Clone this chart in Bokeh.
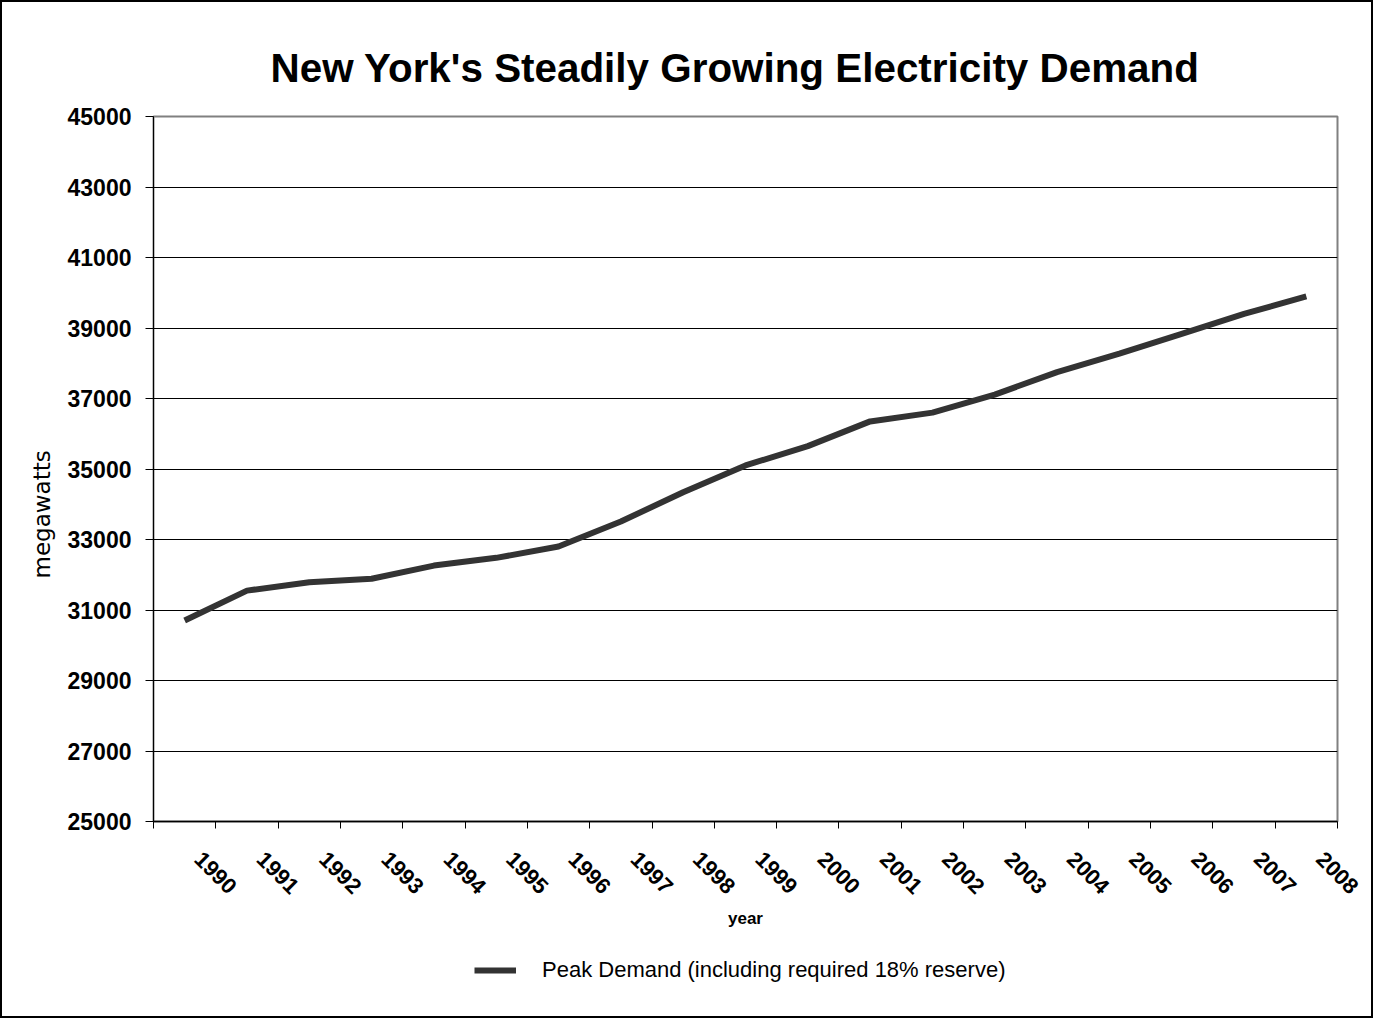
import math
from bokeh.plotting import figure
from bokeh.layouts import column
from bokeh.models import FixedTicker, Range1d, Title, Legend, LegendItem
from bokeh.embed import file_html
from bokeh.resources import INLINE

# ---- data ----
years = [1990, 1991, 1992, 1993, 1994, 1995, 1996, 1997, 1998, 1999,
         2000, 2001, 2002, 2003, 2004, 2005, 2006, 2007, 2008]
peak_demand = [30700, 31550, 31790, 31885, 32260, 32480, 32800, 33510, 34340, 35100,
               35650, 36350, 36600, 37110, 37750, 38270, 38835, 39400, 39895]
y_ticks = [25000, 27000, 29000, 31000, 33000, 35000, 37000, 39000, 41000, 43000, 45000]

title_text = "New York's Steadily Growing Electricity Demand"
series_name = "Peak Demand (including required 18% reserve)"
x_title = "year"
y_title = "megawatts"

FONT = "Liberation Sans"
LABEL_SHIFT = 0.22  # horizontal nudge of the rotated year labels
LINE_COLOR = "#333333"
LINE_WIDTH = 6

x_idx = list(range(len(years)))

W = 1369
H_MAIN = 940
H_LEG = 74

p = figure(width=W, height=H_MAIN, output_backend="svg", toolbar_location=None,
           x_range=Range1d(-0.5, len(years) - 0.5), y_range=Range1d(25000, 45000),
           min_border_left=151, min_border_right=34, min_border_top=114,
           min_border_bottom=H_MAIN - 819,
           background_fill_color="white", border_fill_color="white")

# title
p.title.text = title_text
p.title.text_font = FONT
p.title.text_font_size = "40.4px"
p.title.text_font_style = "bold"
p.title.text_color = "black"
p.title.align = "left"
p.title.offset = 117
p.title.standoff = 51

# outline (top/right of plot area)
p.outline_line_color = "#808080"
p.outline_line_width = 2

# y axis
p.yaxis.ticker = FixedTicker(ticks=y_ticks)
p.yaxis.major_label_text_font = FONT
p.yaxis.major_label_text_font_size = "23px"
p.yaxis.major_label_text_font_style = "bold"
p.yaxis.major_label_text_color = "black"
p.yaxis.major_tick_out = 8
p.yaxis.major_tick_in = 0
p.yaxis.minor_tick_line_color = None
p.yaxis.major_label_standoff = 14
p.yaxis.axis_line_color = "black"
p.yaxis.major_tick_line_color = "black"

# y title (vertical title on the left, positioned along the axis)
p.add_layout(Title(text=y_title, align="left", offset=243, standoff=19,
                   text_font="DejaVu Sans", text_font_size="23px",
                   text_font_style="normal", text_color="black"), "left")

# x axis: labels near category centres, tick marks at category boundaries
p.xaxis.ticker = FixedTicker(ticks=[i + LABEL_SHIFT for i in x_idx],
                             minor_ticks=[i - 0.5 for i in range(len(years) + 1)])
p.xaxis.major_label_overrides = {i + LABEL_SHIFT: str(y) for i, y in zip(x_idx, years)}
p.xaxis.major_label_orientation = -math.pi / 4
p.xaxis.major_label_text_font = FONT
p.xaxis.major_label_text_font_size = "22px"
p.xaxis.major_label_text_font_style = "bold"
p.xaxis.major_label_text_color = "black"
p.xaxis.major_label_standoff = 27
p.xaxis.major_tick_line_color = None
p.xaxis.major_tick_out = 0
p.xaxis.major_tick_in = 0
p.xaxis.minor_tick_line_color = "black"
p.xaxis.minor_tick_out = 7
p.xaxis.minor_tick_in = 0
p.xaxis.axis_line_color = "black"
p.xaxis.axis_line_width = 1.5
p.xaxis.axis_label = x_title
p.xaxis.axis_label_text_font = FONT
p.xaxis.axis_label_text_font_size = "17px"
p.xaxis.axis_label_text_font_style = "bold"
p.xaxis.axis_label_text_color = "black"
p.xaxis.axis_label_standoff = 5

# grid
p.xgrid.grid_line_color = None
p.ygrid.ticker = FixedTicker(ticks=y_ticks[1:-1])
p.ygrid.grid_line_color = "black"
p.ygrid.grid_line_width = 1

# data line
p.line(x=x_idx, y=peak_demand, line_color=LINE_COLOR, line_width=LINE_WIDTH)

# ---- legend strip below the chart ----
pl = figure(width=W, height=H_LEG, output_backend="svg", toolbar_location=None,
            x_axis_type=None, y_axis_type=None,
            x_range=Range1d(0, 1), y_range=Range1d(0, 1),
            min_border=0, outline_line_color=None,
            background_fill_color="white", border_fill_color="white")
pl.xgrid.grid_line_color = None
pl.ygrid.grid_line_color = None
# same series, drawn outside this strip's visible range: only its legend swatch shows
r_leg = pl.line(x=years, y=peak_demand, line_color=LINE_COLOR, line_width=LINE_WIDTH)

lg = Legend(items=[LegendItem(label=series_name, renderers=[r_leg])],
            location=(321, 33), orientation="horizontal")
lg.padding = 0
lg.margin = 0
lg.border_line_color = None
lg.background_fill_alpha = 0
lg.glyph_width = 42
lg.glyph_height = 22
lg.label_height = 22
lg.label_standoff = 26
lg.label_text_font = FONT
lg.label_text_font_size = "22px"
lg.label_text_color = "black"
pl.add_layout(lg, "center")

layout = column(p, pl, spacing=0)
layout.styles = {"border": "2px solid black"}

open("out.html", "w").write(file_html(layout, INLINE))
